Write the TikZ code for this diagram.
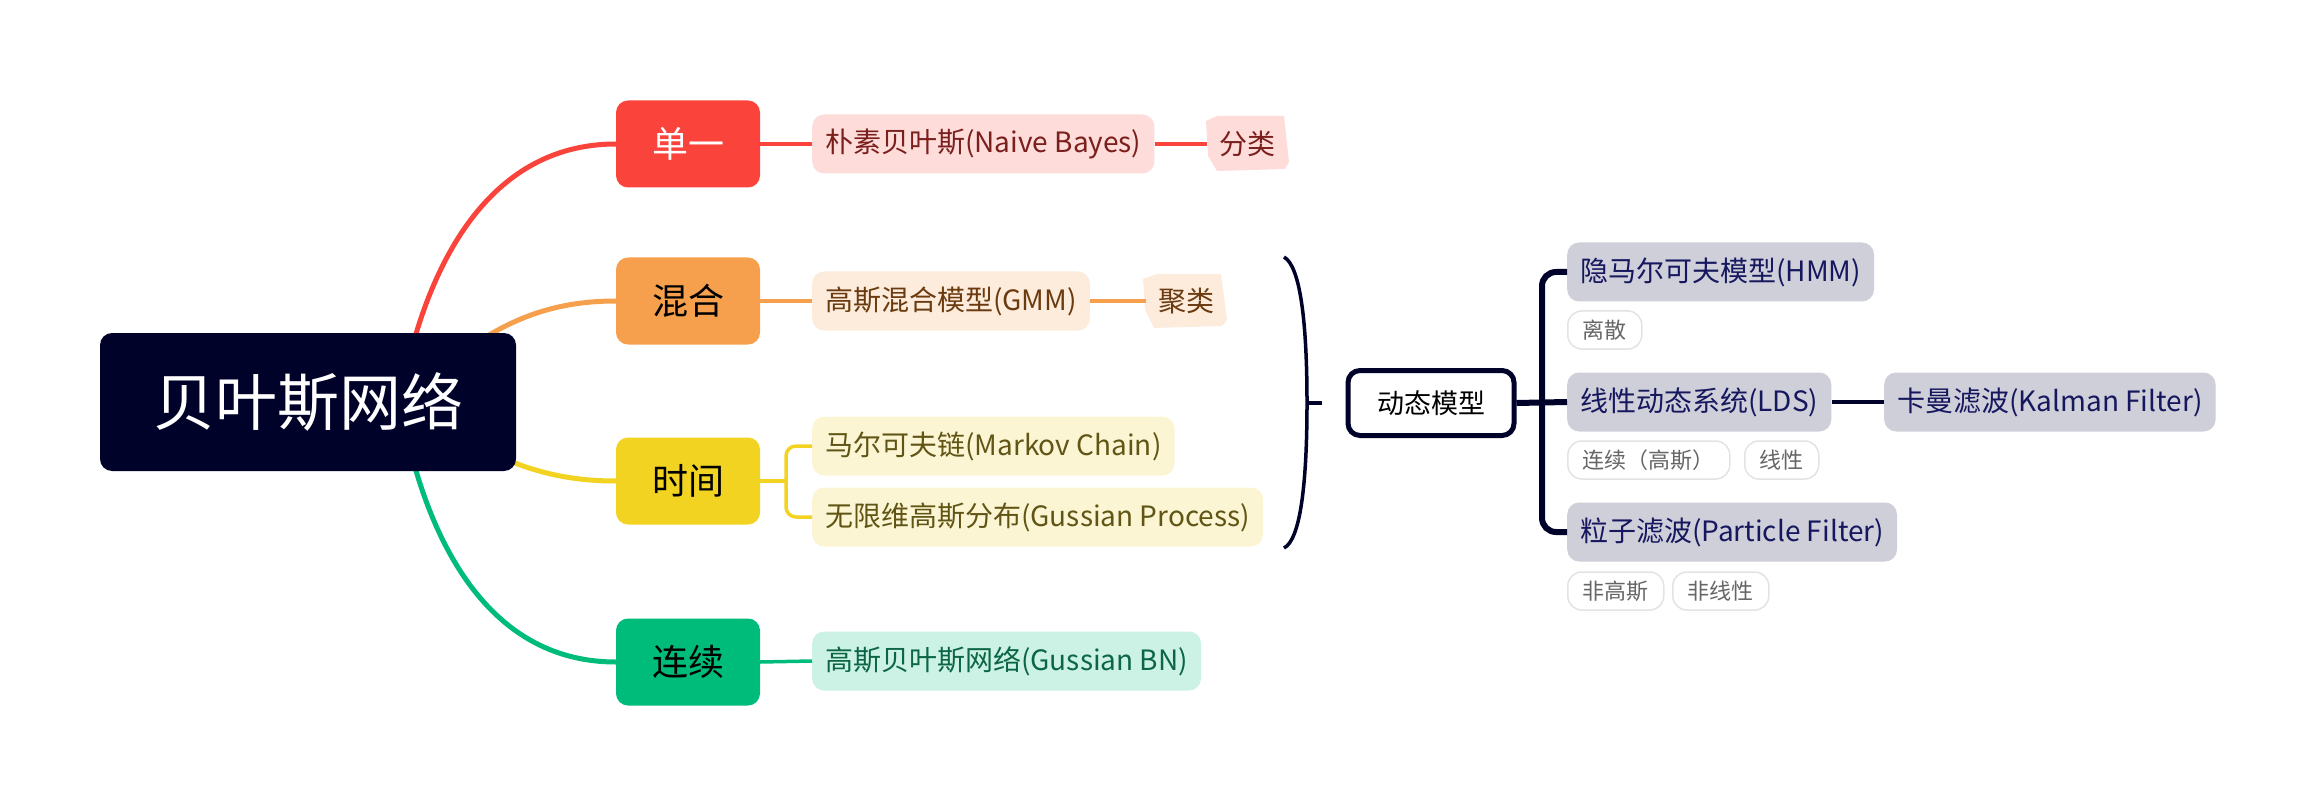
\documentclass[tikz,border=0pt]{standalone}
\usepackage{fontspec}
\setmainfont{Noto Sans CJK SC}
\usepackage{tikz}
\usetikzlibrary{backgrounds}

\definecolor{rootc}{HTML}{000229}
\definecolor{redc}{HTML}{F9433B}
\definecolor{orangec}{HTML}{F6A04D}
\definecolor{yellowc}{HTML}{F2D321}
\definecolor{greenc}{HTML}{00BC7B}
\definecolor{redbg}{HTML}{FDDCDA}
\definecolor{redtx}{HTML}{7A1F1B}
\definecolor{orangebg}{HTML}{FDEBDC}
\definecolor{orangetx}{HTML}{6B3B10}
\definecolor{yellowbg}{HTML}{FCF5D4}
\definecolor{yellowtx}{HTML}{615515}
\definecolor{greenbg}{HTML}{CCF2E5}
\definecolor{greentx}{HTML}{0C6645}
\definecolor{graybg}{HTML}{CECFD8}
\definecolor{navytx}{HTML}{16175E}
\definecolor{tagline}{HTML}{E3E3E3}
\definecolor{tagtext}{HTML}{666666}

\tikzset{rootbox/.style={rounded corners=12pt, fill=rootc, text=white, minimum width=416pt, minimum height=138pt, font=\fontsize{62}{70}\selectfont}}
\tikzset{topic/.style={rounded corners=12pt, minimum width=144pt, minimum height=87pt, font=\fontsize{36}{40}\selectfont}}
\tikzset{sub/.style={rounded corners=12pt, anchor=west, minimum height=59pt, inner xsep=13pt, font=\fontsize{28}{32}\selectfont}}
\tikzset{tag/.style={rounded corners=14pt, anchor=west, draw=tagline, line width=1.5pt, fill=white, text=tagtext, minimum height=38pt, inner xsep=15pt, font=\fontsize{22}{26}\selectfont}}
\tikzset{branch/.style={line width=5pt}, twig/.style={line width=3.5pt}}

\begin{document}
\begin{tikzpicture}[x=1pt, y=-1pt]
	\useasboundingbox (0,0) rectangle (2310,794);

	% centre and main topics
	\node[rootbox] (bn) at (308,402) {贝叶斯网络};
	\coordinate (hub) at (400,402);

	\node[topic, fill=redc, text=white] (single) at (688,144) {单一};
	\node[topic, fill=orangec] (mixed) at (688,301) {混合};
	\node[topic, fill=yellowc] (timec) at (688,481) {时间};
	\node[topic, fill=greenc] (contin) at (688,662) {连续};

	\begin{scope}[on background layer]
		\draw[branch, redc] (hub) to[out=80, in=180] (single.west);
		\draw[branch, orangec] (hub) to[out=40, in=180] (mixed.west);
		\draw[branch, yellowc] (hub) to[out=-30, in=180] (timec.west);
		\draw[branch, greenc] (hub) to[out=-80, in=180] (contin.west);
	\end{scope}

	% second level
	\node[sub, fill=redbg, text=redtx] (naive) at (812,144) {朴素贝叶斯(Naive Bayes)};
	\fill[redbg] (1206,121) -- (1217,116) -- (1284,116) -- (1289,162) -- (1285,169) -- (1217,171) -- (1208,156) -- cycle;
	\node[font=\fontsize{28}{32}\selectfont, text=redtx, inner xsep=12pt] (classif) at (1247,144) {分类};
	\draw[twig, redc] (single.east) -- (naive.west);
	\draw[twig, redc] (naive.east) -- (classif.west);

	\node[sub, fill=orangebg, text=orangetx] (gmm) at (812,301) {高斯混合模型(GMM)};
	\fill[orangebg] (1143,279) -- (1157,274) -- (1221,274) -- (1227,320) -- (1222,326) -- (1154,328) -- (1145,310) -- cycle;
	\node[font=\fontsize{28}{32}\selectfont, text=orangetx, inner xsep=12pt] (cluster) at (1186,301) {聚类};
	\draw[twig, orangec] (mixed.east) -- (gmm.west);
	\draw[twig, orangec] (gmm.east) -- (cluster.west);

	\node[sub, fill=yellowbg, text=yellowtx] (markov) at (812,446) {马尔可夫链(Markov Chain)};
	\node[sub, fill=yellowbg, text=yellowtx] (gproc) at (812,517) {无限维高斯分布(Gussian Process)};
	\coordinate (tfork) at (786,481);
	\draw[twig, yellowc] (timec.east) -- (tfork);
	\draw[twig, yellowc, rounded corners=10pt] (markov.west) -| (tfork) |- (gproc.west);

	\node[sub, fill=greenbg, text=greentx] (gbn) at (812,661) {高斯贝叶斯网络(Gussian BN)};
	\draw[twig, greenc] (contin.east) -- (gbn.west);

	% summary brace
	\draw[rootc, line width=3.5pt] (1284,257) .. controls (1300,266) and (1307,320) .. (1307,403) .. controls (1307,486) and (1300,540) .. (1284,548);
	\coordinate (brace) at (1307,403);
	\coordinate (bracetip) at (1322,403);
	\draw[rootc, line width=3.5pt] (brace) -- (bracetip);

	% dynamic models
	\node[rounded corners=12pt, draw=rootc, line width=5pt, fill=white, minimum width=166pt, minimum height=65pt, font=\fontsize{27}{30}\selectfont] (dyn) at (1431,403) {动态模型};

	\node[sub, fill=graybg, text=navytx] (hmm) at (1567,272) {隐马尔可夫模型(HMM)};
	\node[sub, fill=graybg, text=navytx] (lds) at (1567,402) {线性动态系统(LDS)};
	\node[sub, fill=graybg, text=navytx] (pf) at (1567,532) {粒子滤波(Particle Filter)};
	\node[sub, fill=graybg, text=navytx] (kalman) at (1884,402) {卡曼滤波(Kalman Filter)};

	\coordinate (dfork) at (1542,402);
	\draw[rootc, line width=6pt] (dyn.east) -- (lds.west);
	\draw[rootc, line width=6pt, rounded corners=14pt] (hmm.west) -| (dfork) |- (pf.west);
	\draw[rootc, line width=4pt] (lds.east) -- (kalman.west);

	\node[tag] (tdisc) at (1567,330) {离散};
	\node[tag] (tcont) at (1567,460) {连续（高斯）};
	\node[tag] (tlin) at (1744,460) {线性};
	\node[tag] (tng) at (1567,591) {非高斯};
	\node[tag] (tnl) at (1672,591) {非线性};

\end{tikzpicture}
\end{document}
